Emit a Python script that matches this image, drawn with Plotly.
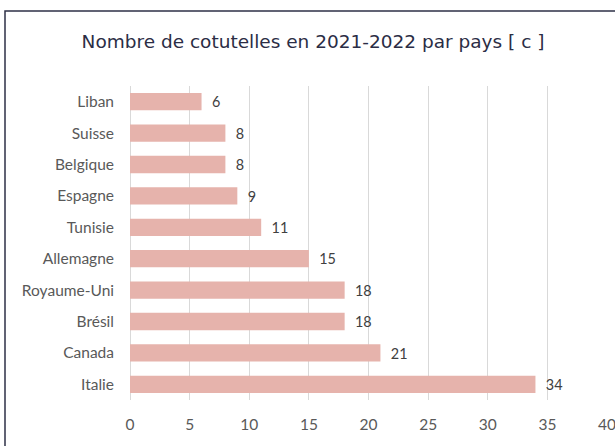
import plotly.graph_objects as go

countries = ["Liban", "Suisse", "Belgique", "Espagne", "Tunisie", "Allemagne",
             "Royaume-Uni", "Brésil", "Canada", "Italie"]
values = [6, 8, 8, 9, 11, 15, 18, 18, 21, 34]
x_ticks = [0, 5, 10, 15, 20, 25, 30, 35, 40]
title_text = "Nombre de cotutelles en 2021-2022 par pays [ c ]"

W, H = 615, 446
L, R, T, B = 130, 8, 86, 46
pw, ph = W - L - R, H - T - B

fig = go.Figure(go.Bar(
    y=countries,
    x=values,
    orientation="h",
    marker=dict(color="#e6b3ac", line=dict(width=0)),
    width=0.55,
    text=["  " + str(v) for v in values],
    textposition="outside",
    textfont=dict(family="Lato", size=15, color="#404040"),
    cliponaxis=False,
    hoverinfo="skip",
))

fig.update_layout(
    width=W, height=H,
    margin=dict(l=L, r=R, t=T, b=B, pad=0, autoexpand=False),
    paper_bgcolor="white", plot_bgcolor="white",
    showlegend=False,
    title=dict(text=title_text, x=(313 - L) / pw, xref="paper", xanchor="center",
               y=1 - 42 / H, yref="container", yanchor="middle",
               font=dict(family="DejaVu Sans", size=18.5, color="#2b2d45")),
    xaxis=dict(range=[0, 40], tickvals=x_ticks, showgrid=True, gridcolor="#d9d9d9",
               gridwidth=1, zeroline=True, zerolinecolor="#d9d9d9", zerolinewidth=1,
               showline=False, ticks="", ticklabelstandoff=13,
               ticklabeloverflow="allow", automargin=False,
               tickfont=dict(family="Lato", size=15.5, color="#595959"),
               fixedrange=True),
    yaxis=dict(autorange="reversed", showgrid=False, showline=False, ticks="",
               ticklabelstandoff=15, automargin=False,
               tickfont=dict(family="Lato", size=15.5, color="#595959"),
               fixedrange=True),
    bargap=0.45,
    shapes=[dict(type="rect", xref="paper", yref="paper",
                 x0=(5 - L) / pw, x1=1.2, y0=-0.5, y1=1 + (T - 11) / ph,
                 line=dict(color="#2e3047", width=1.5), layer="below")],
)

fig.write_html(
    "out.html",
    config={"displayModeBar": False},
    post_script="document.body.style.margin='0';document.body.style.overflow='hidden';",
)
